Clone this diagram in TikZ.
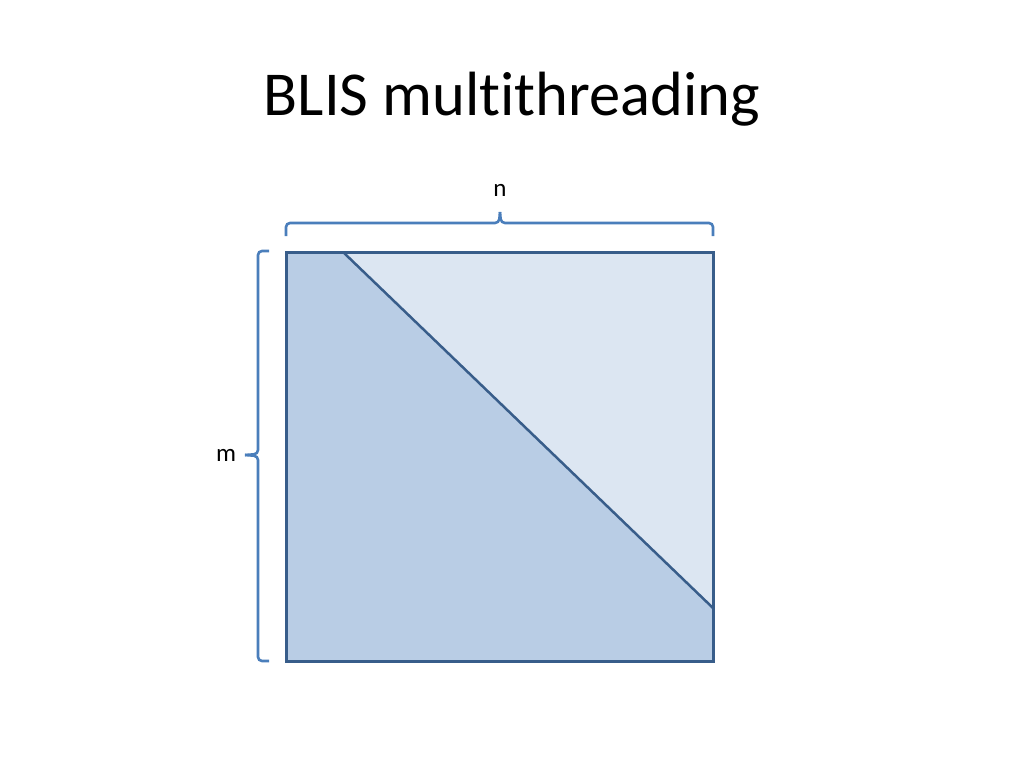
\documentclass[tikz,border=0pt]{standalone}
\usepackage{fontspec}
\setmainfont[Ligatures=NoCommon]{Carlito}
\definecolor{darkfill}{HTML}{B9CDE5}
\definecolor{lightfill}{HTML}{DCE6F2}
\definecolor{edge}{HTML}{385D8A}
\definecolor{bracec}{HTML}{4A7EBB}
\begin{document}
\begin{tikzpicture}[x=1pt,y=-1pt,
  sq/.style={draw=edge,line width=3pt,line join=miter},
  brace/.style={draw=bracec,line width=2.6pt,rounded corners=4pt},
  lbl/.style={font=\fontsize{25}{30}\selectfont,inner sep=0pt}]
\useasboundingbox (0,0) rectangle (1024,768);
\node[font=\fontsize{62.5}{72}\selectfont,inner sep=0pt] (title) at (512,99) {BLIS multithreading};
% square
\coordinate (tl) at (286,252);
\coordinate (tr) at (713,252);
\coordinate (br) at (713,661);
\coordinate (bl) at (286,661);
\coordinate (d1) at (343,252);
\coordinate (d2) at (713,608);
\fill[lightfill] (d1) -- (tr) -- (d2) -- cycle;
\fill[darkfill] (tl) -- (d1) -- (d2) -- (br) -- (bl) -- cycle;
\draw[edge,line width=2.5pt] (d1) -- (d2);
\draw[sq] (tl) rectangle (br);
% top brace
\draw[brace] (286,236) -- (286,223) -- (499,223) -- (500,212);
\draw[brace] (713,236) -- (713,223) -- (501,223) -- (500,212);
\node[lbl] (n) at (500,190) {n};
% left brace
\draw[brace] (269,251) -- (258,251) -- (258,454) -- (245,455);
\draw[brace] (269,661) -- (258,661) -- (258,456) -- (245,455);
\node[lbl] (m) at (226,455) {m};
\end{tikzpicture}
\end{document}
